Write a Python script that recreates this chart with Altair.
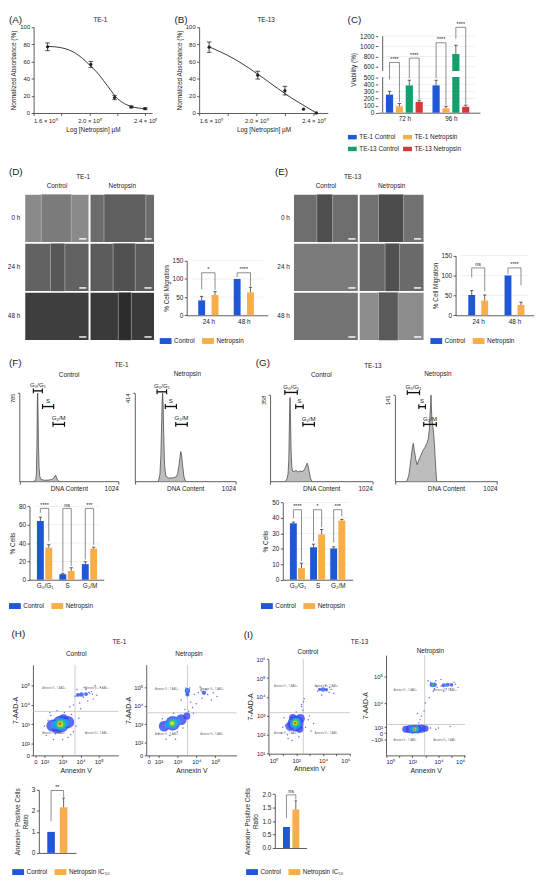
import altair as alt
import pandas as pd

# ======================= DATA =======================
# (A) TE-1 dose response
A_DOSE = [1.70, 2.01, 2.18, 2.30, 2.40]
A_ABS = [77.0, 56.5, 18.0, 7.0, 5.0]
A_ERR = [4.5, 3.5, 2.5, 1.0, 1.0]
A_FIT_DOSE = [1.70, 1.75, 1.80, 1.85, 1.90, 1.95, 2.00, 2.05, 2.10, 2.15, 2.20, 2.25, 2.30, 2.35, 2.40]
A_FIT_ABS = [77.5, 77.0, 75.8, 73.5, 69.5, 63.5, 56.0, 48.0, 38.0, 27.0, 17.0, 11.0, 7.5, 5.8, 5.0]
# (B) TE-13 dose response
B_DOSE = [1.67, 2.01, 2.20, 2.33, 2.42]
B_ABS = [76.5, 44.0, 26.0, 4.5, 0.0]
B_ERR = [6.0, 4.5, 5.0, 0.0, 0.0]
B_FIT_DOSE = [1.67, 1.75, 1.85, 1.95, 2.05, 2.15, 2.25, 2.35, 2.42]
B_FIT_ABS = [77.0, 71.0, 62.5, 52.0, 40.5, 28.5, 17.0, 7.0, 0.0]
DOSE_TICKS = [1.6, 1.8, 2.0, 2.2, 2.4]

# (C) viability
C_GROUPS = ["72 h", "96 h"]
C_SERIES = ["TE-1 Control", "TE-1 Netropsin", "TE-13 Control", "TE-13 Netropsin"]
C_VALS = [[255, 89, 385, 153], [385, 61, 850, 83]]
C_ERRS = [[46, 41, 73, 23], [73, 28, 170, 24]]
C_SIG = [(0, 0, 1, 683, 470, 150, "****"), (0, 2, 3, 768, 485, 195, "****"),
         (1, 0, 1, 1070, 485, 110, "****"), (1, 2, 3, 1374, 1150, 130, "****")]
C_TICKS = [0, 100, 200, 300, 400, 500, 600, 800, 1000, 1200]

# (D)/(E) migration
MIG_GROUPS = ["24 h", "48 h"]
CN_SERIES = ["Control", "Netropsin"]
D_VALS = [[41, 56], [100, 63]]
D_ERRS = [[11, 9], [0, 14]]
D_SIG = [(0, 0, 1, 117, 72, 70, "*"), (1, 0, 1, 117, 105, 80, "****")]
E_VALS = [[51, 37], [100, 26]]
E_ERRS = [[11, 14], [0, 7]]
E_SIG = [(0, 0, 1, 119, 95, 60, "ns"), (1, 0, 1, 119, 103, 75, "****")]
MIG_TICKS = [0, 50, 100, 150]

# wound images (grey levels per cell, wound edges as fraction of the field)
TIMES = ["0 h", "24 h", "48 h"]
D_BASE = [["#8a8a8a", "#6c6c6c"], ["#626262", "#5c5c5c"], ["#3e3e3e", "#3a3a3a"]]
D_GAP = [["#7b7b7b", "#5f5f5f"], ["#575757", "#515151"], [None, "#2c2c2c"]]
D_EDGE = [[(0.26, 0.72), (0.22, 0.86)], [(0.40, 0.62), (0.36, 0.70)], [None, (0.44, 0.64)]]
E_BASE = [["#6e6e6e", "#727272"], ["#7a7a7a", "#6a6a6a"], ["#747474", "#8c8c8c"]]
E_GAP = [["#4e4e4e", "#4c4c4c"], [None, "#515151"], [None, "#5a5a5a"]]
E_EDGE = [[(0.36, 0.60), (0.30, 0.68)], [None, (0.40, 0.62)], [None, (0.30, 0.60)]]

# (F)/(G) cell-cycle histograms (channel, count)
F_C_CH = [150, 168, 176, 182, 186, 190, 194, 198, 204, 212, 225, 260, 300, 335, 355, 368, 375, 384, 395, 410]
F_C_N = [0, 5, 60, 330, 700, 785, 600, 320, 120, 40, 15, 8, 10, 15, 25, 48, 53, 35, 12, 0]
F_N_CH = [240, 255, 265, 272, 278, 283, 288, 294, 302, 315, 340, 380, 420, 435, 448, 458, 467, 476, 487, 500, 515]
F_N_N = [0, 30, 120, 260, 380, 414, 360, 220, 80, 25, 15, 15, 20, 35, 70, 110, 139, 120, 70, 20, 0]
G_C_CH = [155, 170, 180, 188, 194, 200, 205, 211, 218, 226, 240, 260, 280, 300, 320, 340, 355, 366, 372, 380, 392, 405, 420]
G_C_N = [0, 10, 30, 90, 250, 348, 260, 120, 60, 42, 40, 45, 38, 42, 40, 45, 58, 70, 75, 65, 40, 12, 0]
G_N_CH = [120, 140, 160, 175, 184, 195, 210, 223, 240, 260, 280, 300, 320, 335, 345, 352, 358, 362, 367, 372, 380, 390, 400, 410, 418]
G_N_N = [0, 10, 35, 55, 62, 50, 35, 27, 35, 42, 50, 55, 62, 70, 85, 110, 125, 141, 115, 100, 90, 75, 50, 20, 0]
F_C_GATES = [("G₀/G₁", 145, 238, 805), ("S", 240, 355, 665), ("G₂/M", 348, 467, 507)]
F_N_GATES = [("G₀/G₁", 226, 323, 420), ("S", 310, 423, 351), ("G₂/M", 416, 533, 267)]
G_C_GATES = [("G₀/G₁", 148, 273, 369), ("S", 257, 332, 310), ("G₂/M", 329, 444, 236)]
G_N_GATES = [("G₀/G₁", 124, 247, 145), ("S", 240, 306, 122), ("G₂/M", 289, 415, 93)]

# (F)/(G) % cells
CC_GROUPS = ["G₀/G₁", "S", "G₂/M"]
F_VALS = [[64, 35], [6, 9.5], [17, 34]]
F_ERRS = [[4.3, 3.2], [1.0, 3.6], [2.6, 1.5]]
F_SIG = [(0, 0, 1, 77.8, 73, 42, "****"), (1, 0, 1, 77.8, 9, 15, "ns"), (2, 0, 1, 77.8, 22, 38, "***")]
G_VALS = [[36.5, 7.5], [21, 29.3], [20.2, 38.3]]
G_ERRS = [[0.8, 3.2], [2.0, 3.2], [1.1, 0.7]]
G_SIG = [(0, 0, 1, 45.3, 40, 12, "****"), (1, 0, 1, 45.3, 25, 34, "*"), (2, 0, 1, 45.3, 24, 41, "***")]

# (H)/(I) annexin
AN_SERIES = ["Control", "Netropsin IC₅₀"]
H_VALS = [[1.0, 2.17]]
H_ERRS = [[0, 0.44]]
H_SIG = [(0, 0, 1, 2.97, 1.51, 2.66, "**")]
I_VALS = [[0.78, 1.43]]
I_ERRS = [[0, 0.32]]
I_SIG = [(0, 0, 1, 1.97, 1.10, 1.80, "ns")]

# flow cytometry: density blobs (annexin decade, 7-AAD decade, area, density level) and sparse events
H_C_BLOBS = [(2.90, 3.00, 300, 0), (2.45, 2.92, 160, 0), (3.30, 3.10, 160, 0), (2.70, 2.75, 100, 0),
             (3.05, 3.25, 100, 0), (2.90, 3.00, 170, 1), (2.60, 2.95, 70, 1), (3.15, 3.05, 70, 1),
             (2.90, 3.00, 90, 2), (2.88, 3.00, 35, 3), (2.86, 3.02, 10, 4),
             (4.05, 4.54, 22, 0), (4.30, 4.56, 16, 0), (3.85, 4.52, 16, 0), (4.10, 4.54, 7, 1)]
H_C_DX = [2.10, 2.30, 2.50, 2.70, 3.30, 3.50, 3.75, 3.90, 2.20, 3.60, 3.80, 4.20, 4.60, 4.90,
          5.10, 4.40, 4.70, 3.95, 4.30, 4.80, 2.60, 3.10, 3.40, 4.00, 4.50, 2.00, 3.00, 3.60,
          4.15, 4.45, 4.65, 3.70, 2.35, 3.45]
H_C_DY = [2.40, 3.60, 2.20, 3.70, 2.30, 3.50, 2.90, 3.30, 3.20, 4.00, 4.80, 4.90, 4.70, 4.50,
          4.90, 4.20, 4.30, 4.10, 4.80, 5.00, 2.50, 3.60, 3.90, 3.80, 4.60, 2.90, 2.20, 2.60,
          4.40, 4.65, 4.55, 4.45, 3.45, 2.45]
H_N_BLOBS = [(2.30, 2.90, 120, 0), (2.75, 3.05, 220, 0), (3.20, 3.25, 120, 0), (3.50, 3.45, 50, 0),
             (2.75, 3.05, 110, 1), (2.50, 2.97, 45, 1), (3.00, 3.15, 45, 1),
             (2.75, 3.05, 55, 2), (2.72, 3.05, 18, 3),
             (3.53, 4.80, 30, 0), (3.53, 4.60, 18, 0), (4.40, 4.70, 20, 0), (3.53, 4.80, 10, 1)]
H_N_DX = [2.00, 2.20, 2.60, 3.00, 3.30, 3.60, 3.80, 4.00, 4.30, 4.60, 4.90, 5.10,
          4.50, 4.20, 3.90, 3.70, 3.40, 3.20, 2.40, 2.80, 3.60, 4.10, 4.80, 2.90,
          3.45, 3.65, 4.25, 4.55, 3.85, 2.15]
H_N_DY = [2.50, 3.30, 2.40, 2.60, 2.80, 3.70, 3.90, 4.10, 4.40, 4.60, 4.70, 4.50,
          4.90, 5.00, 4.60, 4.20, 3.80, 4.30, 2.20, 3.60, 3.30, 4.70, 4.30, 2.20,
          4.95, 4.95, 4.80, 4.85, 3.60, 3.05]
I_C_BLOBS = [(1.95, 2.60, 260, 0), (1.55, 2.45, 90, 0), (2.30, 2.85, 90, 0), (1.75, 2.90, 60, 0),
             (2.25, 2.30, 60, 0), (1.95, 2.60, 130, 1), (2.05, 2.70, 50, 1),
             (1.95, 2.62, 60, 2), (1.93, 2.62, 22, 3), (1.93, 2.62, 7, 4),
             (4.00, 4.39, 20, 0), (3.75, 4.40, 12, 0), (4.25, 4.38, 12, 0), (4.00, 4.39, 7, 1)]
I_C_DX = [0.90, 1.10, 1.40, 2.70, 2.90, 2.50, 2.40, 2.60, 2.20, 1.20, 3.10, 3.60,
          4.50, 4.80, 3.90, 4.20, 1.70, 2.00, 2.50, 3.30, 2.40, 1.00, 3.00, 4.60,
          3.55, 4.45, 2.55, 1.35]
I_C_DY = [2.10, 2.90, 1.80, 2.40, 2.80, 3.30, 3.60, 3.90, 1.90, 2.50, 2.20, 4.30,
          4.50, 4.20, 4.10, 4.60, 1.70, 3.20, 3.00, 2.60, 3.50, 2.40, 3.00, 4.40,
          4.55, 4.25, 3.75, 2.00]
I_N_BLOBS = [(1.50, 3.00, 50, 0), (1.80, 3.00, 70, 0), (2.10, 3.00, 80, 0), (2.40, 3.00, 80, 0),
             (2.70, 3.02, 70, 0), (3.00, 3.03, 45, 0), (2.00, 3.00, 35, 1), (2.30, 3.00, 40, 1),
             (2.20, 3.00, 22, 2), (2.20, 3.00, 9, 3), (2.18, 3.00, 4, 4),
             (3.50, 4.70, 22, 0), (3.70, 4.70, 22, 0), (4.40, 4.68, 18, 0), (4.70, 4.70, 18, 0),
             (5.00, 4.70, 14, 0), (3.60, 4.70, 12, 1), (4.60, 4.68, 8, 1), (3.60, 4.71, 4, 2)]
I_N_DX = [2.60, 2.70, 2.50, 2.90, 3.30, 3.60, 4.20, 4.60, 5.20, 5.50, 3.20,
          3.90, 4.40, 3.40, 1.60, 2.00, 2.90, 3.80, 4.90, 2.40, 4.00, 3.00,
          3.40, 3.80, 4.20, 5.30, 3.70, 4.90]
I_N_DY = [3.36, 3.50, 3.25, 3.70, 4.20, 4.45, 4.90, 4.55, 4.80, 4.60, 4.85,
          4.60, 4.45, 3.05, 2.90, 2.85, 2.95, 3.00, 3.10, 3.60, 3.05, 4.00,
          4.80, 4.85, 4.65, 4.72, 4.55, 4.55]
QUAD_TEXT = ["Annexin V−, 7-AAD+", "Annexin V+, 7-AAD+", "Annexin V−, 7-AAD−", "Annexin V+, 7-AAD−"]

# ======================= STYLE / LAYOUT =======================
FONT = "Liberation Sans"
INK = "#222222"
BRK = "#5c5c5c"
GRID = "#e4e4e4"
BLUE = "#1f58d6"
ORANGE = "#f7ad4a"
GREEN = "#14a06c"
RED = "#d23a3a"
DENS = ["#3446f5", "#22a7ee", "#37cf4f", "#f2e32a", "#ee3b1c"]
RECT = "M-1,-0.5H1V0.5H-1Z"
W, H, M = 542, 878, 8


def X(v):
    return v - M


def Y(v):
    return v - M


def lab_expr(values, labels):
    s = "''"
    for v, l in reversed(list(zip(values, labels))):
        s = f"(abs(datum.value - ({v})) < 1e-6 ? '{l}' : {s})"
    return s


AX = dict(labelFont=FONT, titleFont=FONT, labelFontSize=6, titleFontSize=6.5,
          labelColor=INK, titleColor=INK, domainColor="#333333", tickColor="#333333",
          domainWidth=0.8, tickWidth=0.8, tickSize=2.5, labelPadding=1.5,
          titleFontWeight="normal", grid=False)


def xax(bottom, **kw):
    d = dict(AX)
    d.update(kw)
    return alt.Axis(orient="bottom", offset=Y(bottom) - H, **d)


def yax(left, **kw):
    d = dict(AX)
    d.update(kw)
    return alt.Axis(orient="left", offset=-X(left), **d)


def xs(domain, rng):
    return alt.Scale(domain=list(domain), range=[X(r) for r in rng], nice=False, zero=False)


def ys(domain, rng):
    return alt.Scale(domain=list(domain), range=[Y(r) for r in rng], nice=False, zero=False)


def txt(s, x, y, size=6.5, align="center", baseline="middle", color=INK):
    return alt.Chart(pd.DataFrame({"t": [s]})).mark_text(
        font=FONT, fontSize=size, align=align, baseline=baseline, color=color
    ).encode(x=alt.value(X(x)), y=alt.value(Y(y)), text="t:N")


def dose_panel(dose, val, err, fd, fv, x16, x24, xmax, ybot, ytop):
    ppu = (x24 - x16) / 0.8
    sx = xs([1.6, xmax], [x16, x16 + (xmax - 1.6) * ppu])
    sy = ys([0, 100], [ybot, ytop])
    xaxis = xax(ybot, values=DOSE_TICKS, labelExpr="format(datum.value, '.1f') + ' × 10⁰'",
                title="Log [Netropsin] µM", titlePadding=3, labelPadding=2)
    yaxis = yax(x16, values=[0, 20, 40, 60, 80, 100], title="Normalized Absorbance (%)", titlePadding=3)

    def X_(f):
        return alt.X(f, type="quantitative", scale=sx, axis=xaxis)

    def Y_(f):
        return alt.Y(f, type="quantitative", scale=sy, axis=yaxis)

    c = 2.3 / ppu
    pts = pd.DataFrame({"d": dose, "v": val, "e": err})
    pts["lo"] = pts.v - pts.e
    pts["hi"] = pts.v + pts.e
    pts["c0"] = pts.d - c
    pts["c1"] = pts.d + c
    ep = pts[pts.e > 0]
    caps = pd.concat([ep.assign(y=ep.lo), ep.assign(y=ep.hi)])
    fit = pd.DataFrame({"d": fd, "v": fv})
    return alt.layer(
        alt.Chart(fit).mark_line(color=INK, strokeWidth=0.9, interpolate="monotone").encode(x=X_("d"), y=Y_("v")),
        alt.Chart(ep).mark_rule(color=INK, strokeWidth=0.8).encode(x=X_("d"), y=Y_("lo"), y2=alt.Y2("hi")),
        alt.Chart(caps).mark_rule(color=INK, strokeWidth=0.8).encode(x=X_("c0"), x2=alt.X2("c1"), y=Y_("y")),
        alt.Chart(pts).mark_circle(color=INK, size=11, opacity=1).encode(x=X_("d"), y=Y_("v")),
    )


def bar_panel(groups, series, colors, vals, errs, sig, first, pps, step, left, right,
              ydom, yrng, yticks, ytitle, bw, leg_x, leg_y, leg_cols=None, sym=144,
              xlabels=True, grid=True, yfmt=None, brk=None, axis_top=None, colpad=7):
    n = len(series)
    rows = []
    for gi in range(len(groups)):
        for si, s in enumerate(series):
            v = vals[gi][si]
            e = errs[gi][si]
            rows.append(dict(slot=gi * step + si, series=s, v=v, zero=0, hi=v + e, err=e))
    df = pd.DataFrame(rows)
    c = 1.9 / pps
    df["c0"] = df.slot - c
    df["c1"] = df.slot + c
    d0 = (left - first) / pps
    d1 = (right - first) / pps
    sx = xs([d0, d1], [left, right])
    sy = ys(ydom, yrng)
    centers = [gi * step + (n - 1) / 2 for gi in range(len(groups))]
    xaxis = xax(yrng[0], values=centers, labelExpr=lab_expr(centers, groups), labels=xlabels,
                ticks=False, title=None, labelPadding=3, labelFontSize=6.5)
    ykw = dict(values=yticks, title=ytitle, titlePadding=3, labelFontSize=6.5, domain=(brk is None))
    if yfmt:
        ykw["format"] = yfmt
    yaxis = yax(left, **ykw)

    def X_(f):
        return alt.X(f, type="quantitative", scale=sx, axis=xaxis)

    def Y_(f):
        return alt.Y(f, type="quantitative", scale=sy, axis=yaxis)

    layers = []
    if grid:
        g = pd.DataFrame({"y": [t for t in yticks if t > 0]})
        g["x0"] = d0
        g["x1"] = d1
        layers.append(alt.Chart(g).mark_rule(color=GRID, strokeWidth=0.6).encode(
            x=X_("x0"), x2=alt.X2("x1"), y=Y_("y")))
    if brk is not None:
        ax = pd.DataFrame({"x": [d0], "y0": [0], "y1": [axis_top]})
        layers.append(alt.Chart(ax).mark_rule(color="#333333", strokeWidth=0.8).encode(
            x=X_("x"), y=Y_("y0"), y2=alt.Y2("y1")))
    legend = alt.Legend(orient="none", legendX=X(leg_x), legendY=Y(leg_y), direction="horizontal",
                        columns=leg_cols or n, title=None, symbolType=RECT, symbolSize=sym,
                        symbolStrokeWidth=0, labelFont=FONT, labelFontSize=6.5, labelColor=INK,
                        columnPadding=colpad, rowPadding=4, labelOffset=2.5, padding=0)
    layers.append(alt.Chart(df).mark_bar(size=bw).encode(
        x=X_("slot"), y=Y_("v"), y2=alt.Y2("zero"),
        color=alt.Color("series:N", scale=alt.Scale(domain=series, range=colors), legend=legend)))
    if brk is not None:
        bk = pd.DataFrame({"x0": [d0 - 2.0 / pps], "x1": [d1], "y0": [brk[0]], "y1": [brk[1]]})
        layers.append(alt.Chart(bk).mark_rect(color="white").encode(
            x=X_("x0"), x2=alt.X2("x1"), y=Y_("y0"), y2=alt.Y2("y1")))
    ed = df[df.err > 0]
    layers.append(alt.Chart(ed).mark_rule(color=INK, strokeWidth=0.7).encode(
        x=X_("slot"), y=Y_("v"), y2=alt.Y2("hi")))
    layers.append(alt.Chart(ed).mark_rule(color=INK, strokeWidth=0.7).encode(
        x=X_("c0"), x2=alt.X2("c1"), y=Y_("hi")))
    bl = []
    for (gi, sl, sr, top, lb, rb, lab) in sig:
        a = gi * step + sl
        b = gi * step + sr
        bl.append(dict(xl=a, xr=b, xm=(a + b) / 2, top=top, lb=lb, rb=rb, lab=lab))
    bdf = pd.DataFrame(bl)
    layers += [
        alt.Chart(bdf).mark_rule(color=BRK, strokeWidth=0.7).encode(x=X_("xl"), x2=alt.X2("xr"), y=Y_("top")),
        alt.Chart(bdf).mark_rule(color=BRK, strokeWidth=0.7).encode(x=X_("xl"), y=Y_("lb"), y2=alt.Y2("top")),
        alt.Chart(bdf).mark_rule(color=BRK, strokeWidth=0.7).encode(x=X_("xr"), y=Y_("rb"), y2=alt.Y2("top")),
        alt.Chart(bdf).mark_text(font=FONT, fontSize=5.5, color=INK, baseline="bottom", dy=-0.5).encode(
            x=X_("xm"), y=Y_("top"), text="lab:N"),
    ]
    return alt.layer(*layers)


def grid_panel(base, gap, edge, xl, xr, yt, yb, head_y, rowlab_x):
    sx = xs([0, 2], [xl, xr])
    sy = ys([0, 3], [yt, yb])

    def X_(f):
        return alt.X(f, type="quantitative", scale=sx, axis=None)

    def Y_(f):
        return alt.Y(f, type="quantitative", scale=sy, axis=None)

    cells, gaps, edges, bars = [], [], [], []
    for r in range(3):
        for c in range(2):
            cells.append(dict(x0=c, x1=c + 1, y0=r, y1=r + 1, col=base[r][c]))
            if edge[r][c]:
                gl, gr = edge[r][c]
                gaps.append(dict(x0=c + gl, x1=c + gr, y0=r + 0.015, y1=r + 0.985, col=gap[r][c]))
                edges.append(dict(x=c + gl, y0=r + 0.015, y1=r + 0.985))
                edges.append(dict(x=c + gr, y0=r + 0.015, y1=r + 0.985))
            bars.append(dict(x0=c + 0.84, x1=c + 0.95, y=r + 0.92))
    heads = pd.DataFrame({"c": [0.5, 1.5], "t": CN_SERIES})
    rowsl = pd.DataFrame({"r": [0.5, 1.5, 2.5], "t": TIMES})
    return alt.layer(
        alt.Chart(pd.DataFrame(cells)).mark_rect(stroke="white", strokeWidth=1.8).encode(
            x=X_("x0"), x2=alt.X2("x1"), y=Y_("y0"), y2=alt.Y2("y1"), fill=alt.Fill("col:N", scale=None)),
        alt.Chart(pd.DataFrame(gaps)).mark_rect().encode(
            x=X_("x0"), x2=alt.X2("x1"), y=Y_("y0"), y2=alt.Y2("y1"), fill=alt.Fill("col:N", scale=None)),
        alt.Chart(pd.DataFrame(edges)).mark_rule(color="#d0d0d0", strokeWidth=0.6, opacity=0.85).encode(
            x=X_("x"), y=Y_("y0"), y2=alt.Y2("y1")),
        alt.Chart(pd.DataFrame(bars)).mark_rule(color="white", strokeWidth=1.4).encode(
            x=X_("x0"), x2=alt.X2("x1"), y=Y_("y")),
        alt.Chart(heads).mark_text(font=FONT, fontSize=6.5, color=INK).encode(
            x=X_("c"), y=alt.value(Y(head_y)), text="t:N"),
        alt.Chart(rowsl).mark_text(font=FONT, fontSize=6.5, color=INK, align="right").encode(
            x=alt.value(X(rowlab_x)), y=Y_("r"), text="t:N"),
    )


def hist_panel(ch, cnt, ymax, gates, xl, xr, ybot, ytop):
    sx = xs([0, 1024], [xl, xr])
    sy = ys([0, ymax], [ybot, ytop])
    xaxis = xax(ybot, values=[0, 1024], labelExpr="datum.value == 1024 ? '1024' : ''",
                title="DNA Content", titleY=4.5, titleBaseline="top", labelFontSize=6.5,
                titleFontSize=6.5, tickSize=3)
    yaxis = yax(xl, values=[ymax], labelAngle=270, labelAlign="right", labelBaseline="bottom",
                title=None, labelPadding=2, tickSize=2, labelFontSize=5.8)

    def X_(f):
        return alt.X(f, type="quantitative", scale=sx, axis=xaxis)

    def Y_(f):
        return alt.Y(f, type="quantitative", scale=sy, axis=yaxis)

    df = pd.DataFrame({"ch": ch, "n": cnt, "z": 0})
    dl = ymax * 0.028
    g = pd.DataFrame(gates, columns=["lab", "lo", "hi", "y"])
    g["y0"] = g.y - dl
    g["y1"] = g.y + dl
    g["mid"] = (g.lo + g.hi) / 2
    return alt.layer(
        alt.Chart(df).mark_area(color="#bdbdbd", opacity=1).encode(x=X_("ch"), y=Y_("n"), y2=alt.Y2("z")),
        alt.Chart(df).mark_line(color="#3a3a3a", strokeWidth=0.7).encode(x=X_("ch"), y=Y_("n")),
        alt.Chart(g).mark_rule(color="#111111", strokeWidth=1.4).encode(x=X_("lo"), x2=alt.X2("hi"), y=Y_("y")),
        alt.Chart(g).mark_rule(color="#111111", strokeWidth=1.2).encode(x=X_("lo"), y=Y_("y0"), y2=alt.Y2("y1")),
        alt.Chart(g).mark_rule(color="#111111", strokeWidth=1.2).encode(x=X_("hi"), y=Y_("y0"), y2=alt.Y2("y1")),
        alt.Chart(g).mark_text(font=FONT, fontSize=6.2, color=INK, baseline="bottom", dy=-0.5).encode(
            x=X_("mid"), y=Y_("y1"), text="lab:N"),
    )


def scatter_panel(xdom, xrng, ydom, yrng, xt, xtl, yt, ytl, vx, hy, blobs, dx, dy):
    sx = xs(xdom, xrng)
    sy = ys(ydom, yrng)
    xaxis = xax(yrng[0], values=xt, labelExpr=lab_expr(xt, xtl), title="Annexin V",
                labelFontSize=6, titleFontSize=7, titlePadding=2, tickSize=2)
    yaxis = yax(xrng[0], values=yt, labelExpr=lab_expr(yt, ytl), title="7-AAD-A",
                labelFontSize=6, titleFontSize=7, titlePadding=2, tickSize=2)

    def X_(f):
        return alt.X(f, type="quantitative", scale=sx, axis=xaxis)

    def Y_(f):
        return alt.Y(f, type="quantitative", scale=sy, axis=yaxis)

    vline = pd.DataFrame({"x": [vx], "y0": [ydom[0]], "y1": [ydom[1]]})
    hline = pd.DataFrame({"y": [hy], "x0": [xdom[0]], "x1": [xdom[1]]})
    qx = [(xdom[0] + vx) / 2, (vx + xdom[1]) / 2]
    qy = [(hy + ydom[1]) / 2, (ydom[0] + hy) / 2]
    ql = pd.DataFrame({"x": [qx[0], qx[1], qx[0], qx[1]], "y": [qy[0], qy[0], qy[1], qy[1]], "t": QUAD_TEXT})
    dots = pd.DataFrame({"x": dx, "y": dy})
    b = pd.DataFrame(blobs, columns=["x", "y", "s", "lvl"])
    b["col"] = [DENS[i] for i in b.lvl]
    b = b.sort_values("lvl", kind="stable")
    return alt.layer(
        alt.Chart(vline).mark_rule(color="#b8b8b8", strokeWidth=0.7).encode(x=X_("x"), y=Y_("y0"), y2=alt.Y2("y1")),
        alt.Chart(hline).mark_rule(color="#b8b8b8", strokeWidth=0.7).encode(x=X_("x0"), x2=alt.X2("x1"), y=Y_("y")),
        alt.Chart(dots).mark_circle(color=DENS[0], size=2.2, opacity=0.8).encode(x=X_("x"), y=Y_("y")),
        alt.Chart(b).mark_circle(opacity=0.8).encode(
            x=X_("x"), y=Y_("y"), size=alt.Size("s:Q", scale=None), color=alt.Color("col:N", scale=None)),
        alt.Chart(ql).mark_text(font=FONT, fontSize=2.6, color="#666666").encode(x=X_("x"), y=Y_("y"), text="t:N"),
    )


SUP = ["10⁰", "10¹", "10²", "10³", "10⁴", "10⁵", "10⁶"]

panels = [
    dose_panel(A_DOSE, A_ABS, A_ERR, A_FIT_DOSE, A_FIT_ABS, 34.0, 147.3, 2.45, 108, 20.7),
    dose_panel(B_DOSE, B_ABS, B_ERR, B_FIT_DOSE, B_FIT_ABS, 202.0, 318.1, 2.5, 108, 20.7),
    bar_panel(C_GROUPS, C_SERIES, [BLUE, ORANGE, GREEN, RED], C_VALS, C_ERRS, C_SIG,
              first=391, pps=11.1, step=4.71, left=383.3, right=487,
              ydom=[0, 500, 600, 1200, 1400], yrng=[107.7, 71.7, 61, 30, 19.7], yticks=C_TICKS,
              ytitle="Viability (%)", bw=7.3, leg_x=353, leg_y=128, leg_cols=2, sym=81,
              brk=(503, 560), axis_top=1200, yfmt="d", colpad=4),
    grid_panel(D_BASE, D_GAP, D_EDGE, 24.6, 157.1, 190, 339.3, 182.3, 20.5),
    bar_panel(MIG_GROUPS, CN_SERIES, [BLUE, ORANGE], D_VALS, D_ERRS, D_SIG,
              first=201, pps=15.4, step=2.66, left=189.4, right=271.8,
              ydom=[0, 150], yrng=[313.3, 258], yticks=MIG_TICKS, ytitle="% Cell Migration",
              bw=7, leg_x=162, leg_y=333.2),
    grid_panel(E_BASE, E_GAP, E_EDGE, 297.4, 430.7, 190, 339.3, 182.3, 294),
    bar_panel(MIG_GROUPS, CN_SERIES, [BLUE, ORANGE], E_VALS, E_ERRS, E_SIG,
              first=475.3, pps=15.1, step=2.79, left=462.3, right=541.5,
              ydom=[0, 150], yrng=[313.3, 252.7], yticks=MIG_TICKS, ytitle="% Cell Migration",
              bw=7, leg_x=436.7, leg_y=333.2),
    hist_panel(F_C_CH, F_C_N, 785, F_C_GATES, 19.5, 120, 481.7, 392.3),
    hist_panel(F_N_CH, F_N_N, 414, F_N_GATES, 136.7, 239, 481.7, 392.3),
    hist_panel(G_C_CH, G_C_N, 358, G_C_GATES, 274, 377.7, 481.7, 394.3),
    hist_panel(G_N_CH, G_N_N, 141, G_N_GATES, 400.7, 504.4, 481.7, 394.3),
    bar_panel(CC_GROUPS, CN_SERIES, [BLUE, ORANGE], F_VALS, F_ERRS, F_SIG,
              first=36.8, pps=9.8, step=2.68, left=29.8, right=105.2,
              ydom=[0, 80], yrng=[581.7, 507.3], yticks=[0, 20, 40, 60, 80], ytitle="% Cells",
              bw=7, leg_x=9, leg_y=602.2),
    bar_panel(CC_GROUPS, CN_SERIES, [BLUE, ORANGE], G_VALS, G_ERRS, G_SIG,
              first=293.6, pps=9.6, step=2.48, left=286.9, right=357.8,
              ydom=[0, 50], yrng=[581.7, 503.3], yticks=[0, 10, 20, 30, 40, 50], ytitle="% Cells",
              bw=7, leg_x=264.8, leg_y=602.2),
    scatter_panel([1.36, 6.09], [33.3, 120], [1.37, 6.09], [760, 668],
                  [1.5, 2, 3, 4, 5], ["0", "10²", "10³", "10⁴", "10⁵"],
                  [1.37, 2, 3, 4, 5], ["0", "10²", "10³", "10⁴", "10⁵"],
                  3.69, 3.66, H_C_BLOBS, H_C_DX, H_C_DY),
    scatter_panel([1.35, 6.13], [148.3, 240], [1.33, 6.2], [760, 668],
                  [1.48, 2, 3, 4, 5], ["0", "10²", "10³", "10⁴", "10⁵"],
                  [1.33, 2, 3, 4, 5], ["0", "10²", "10³", "10⁴", "10⁵"],
                  3.53, 3.62, H_N_BLOBS, H_N_DX, H_N_DY),
    scatter_panel([-0.07, 6.0], [272.3, 355], [1, 6], [758.3, 662.3],
                  [0, 1, 2, 3, 4, 5, 6], SUP, [1, 2, 3, 4, 5, 6], SUP[1:],
                  2.53, 3.17, I_C_BLOBS, I_C_DX, I_C_DY),
    scatter_panel([0, 6.04], [391.7, 472], [2.0, 5.83], [760, 658.3],
                  [0, 1, 2, 3, 4, 5, 6], SUP, [2.59, 2.85, 3.08, 4, 5], ["−10²", "0", "10²", "10⁴", "10⁵"],
                  2.95, 3.18, I_N_BLOBS, I_N_DX, I_N_DY),
    bar_panel([""], AN_SERIES, [BLUE, ORANGE], H_VALS, H_ERRS, H_SIG,
              first=49.4, pps=17.3, step=2, left=39.3, right=77,
              ydom=[0, 3], yrng=[859, 795], yticks=[0, 1, 2, 3],
              ytitle=["Annexin+ Positive Cells", "Ratio"], bw=7.7, leg_x=12.3, leg_y=872.2,
              xlabels=False, grid=False),
    bar_panel([""], AN_SERIES, [BLUE, ORANGE], I_VALS, I_ERRS, I_SIG,
              first=288.7, pps=13.8, step=2, left=278.8, right=311,
              ydom=[0, 2], yrng=[854, 799.3], yticks=[0, 0.5, 1.0, 1.5, 2.0],
              ytitle=["Annexin+ Positive Cells", "Ratio"], bw=7, leg_x=249.7, leg_y=872.2,
              xlabels=False, grid=False, yfmt=".1f"),
]

TEXTS = [
    ("(A)", 9, 13.5, 10, "left"), ("TE-1", 101.7, 13.3, 6.5, "center"),
    ("(B)", 177, 13.5, 10, "left"), ("TE-13", 270, 13.3, 6.5, "center"),
    ("(C)", 352.7, 13.5, 10, "left"),
    ("(D)", 9, 168.3, 10, "left"), ("TE-1", 84.2, 172.7, 6.5, "center"),
    ("(E)", 279, 168.3, 10, "left"), ("TE-13", 357.8, 172.7, 6.5, "center"),
    ("(F)", 9, 361.5, 10, "left"), ("TE-1", 123.3, 363.5, 6.5, "center"),
    ("Control", 70, 374.3, 6.5, "center"), ("Netropsin", 190, 373.3, 6.5, "center"),
    ("(G)", 259.5, 361.7, 10, "left"), ("TE-13", 378.3, 365, 6.5, "center"),
    ("Control", 326, 374.3, 6.5, "center"), ("Netropsin", 444.3, 373.3, 6.5, "center"),
    ("(H)", 11.6, 637, 10, "left"), ("TE-1", 121, 645, 6.5, "center"),
    ("Control", 77.3, 657.3, 6.5, "center"), ("Netropsin", 191.7, 657, 6.5, "center"),
    ("(I)", 247.3, 638, 10, "left"), ("TE-13", 364.8, 645, 6.5, "center"),
    ("Control", 312.3, 655, 6.5, "center"), ("Netropsin", 436.7, 654, 6.5, "center"),
]
panels += [txt(s, x, y, size, align) for (s, x, y, size, align) in TEXTS]

chart = alt.layer(*panels).resolve_scale(
    x="independent", y="independent", color="independent", fill="independent", size="independent"
).properties(
    width=W, height=H, padding=0, autosize=alt.AutoSizeParams(type="none")
).configure_view(stroke=None)

chart.save("out.html", embed_options={"renderer": "svg", "actions": False})
